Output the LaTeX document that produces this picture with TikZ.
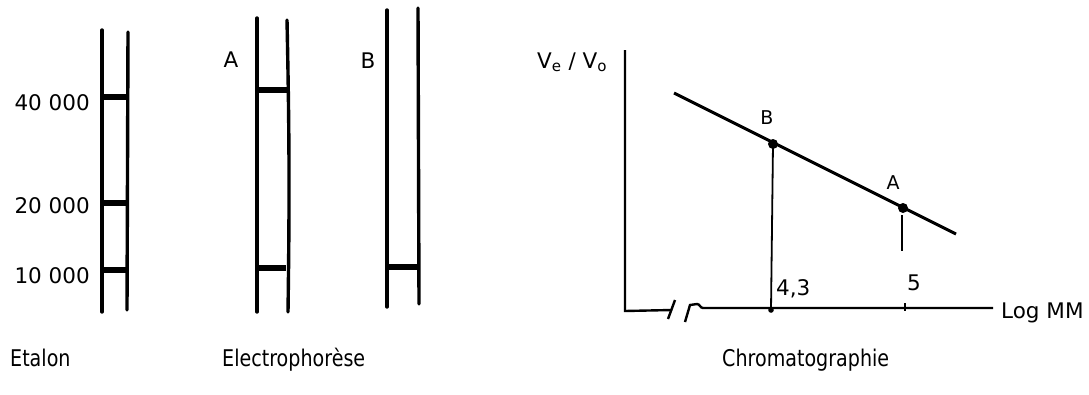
\documentclass[tikz,border=0pt]{standalone}
\usepackage{fontspec}
\setmainfont{DejaVu Sans}
\newfontfamily\capfont[FakeStretch=0.83]{DejaVu Sans}
\tikzset{
  tube/.style={line width=3.4pt, line cap=round},
  band/.style={line width=6.5pt},
  ax/.style={line width=2.4pt},
  thin/.style={line width=1.8pt},
  lbl/.style={inner sep=0pt, font=\fontsize{21.5}{24}\selectfont},
  small/.style={inner sep=0pt, font=\fontsize{19}{22}\selectfont},
  captxt/.style={inner sep=0pt, font=\capfont\fontsize{23}{26}\selectfont},
  dot/.style={circle, fill=black, inner sep=0pt, minimum size=10pt},
}
\begin{document}
\begin{tikzpicture}[x=1pt,y=-1pt]
\useasboundingbox (0,0) rectangle (1089,394);
% Etalon tube
\coordinate (e1t) at (102,30); \coordinate (e1b) at (102,312);
\coordinate (e2t) at (128,32); \coordinate (e2b) at (127,310);
\draw[tube] (e1t) -- (e1b);
\draw[tube] (e2t) -- (e2b);
\draw[band] (102,97) -- (128,97);
\draw[band] (102,203) -- (127,203);
\draw[band] (102,270) -- (127,270);
\node[lbl, anchor=base east] (l40) at (90,110) {40 000};
\node[lbl, anchor=base east] (l20) at (90,213) {20 000};
\node[lbl, anchor=base east] (l10) at (90,283) {10 000};
% Electrophorese A
\draw[tube] (257,18) -- (257,312);
\draw[tube] (287,20) to[bend left=1] (288,312);
\draw[band] (257,90) -- (287,90);
\draw[band] (257,268) -- (286,268);
\node[lbl, anchor=base] (la) at (231,67) {A};
% Electrophorese B
\draw[tube] (387,10) -- (387,307);
\draw[tube] (418,8) -- (419,304);
\draw[band] (387,267) -- (418,267);
\node[lbl, anchor=base] (lb) at (368,68) {B};
% Chromatographie
\coordinate (O) at (625,311);
\coordinate (Yt) at (625,50);
\coordinate (br1) at (672,310);
\coordinate (Xe) at (993,308);
\draw[ax] (Yt) -- (O) -- (br1);
\draw[ax] (675,300) -- (668,319);
\draw[ax] (685,322) -- (690,305) -- (697,304) to[out=0,in=180] (703,308) -- (Xe);
\node[dot] (pB) at (773,144) {};
\node[dot] (pA) at (903,208) {};
\coordinate (Ls) at (674,93);
\coordinate (Le) at (956,234);
\draw[line width=3pt] (Ls) -- (Le);
\coordinate (fB) at (771,310);
\draw[thin] (pB.center) -- (fB);
\fill (fB) circle (2.8pt);
\coordinate (aA1) at (902,215);
\coordinate (aA2) at (902,251);
\draw[thin] (aA1) -- (aA2);
\draw[thin] (905,303) -- (905,311);
\node[lbl, anchor=base west] (l43) at (776,295) {4,3};
\node[lbl, anchor=base west] (l5) at (907,290) {5};
\node[small, anchor=base] (lB2) at (767,124) {B};
\node[small, anchor=base] (lA2) at (893,189) {A};
\node[lbl, anchor=base west] (lmm) at (1001,318) {Log MM};
\node[lbl, anchor=base west] (lvv) at (537,68) {V\textsubscript{e} / V\textsubscript{o}};
% captions
\node[captxt, anchor=base west] (c1) at (10,366) {Etalon};
\node[captxt, anchor=base west] (c2) at (222,366) {Electrophorèse};
\node[captxt, anchor=base west] (c3) at (722,366) {Chromatographie};
\end{tikzpicture}
\end{document}
